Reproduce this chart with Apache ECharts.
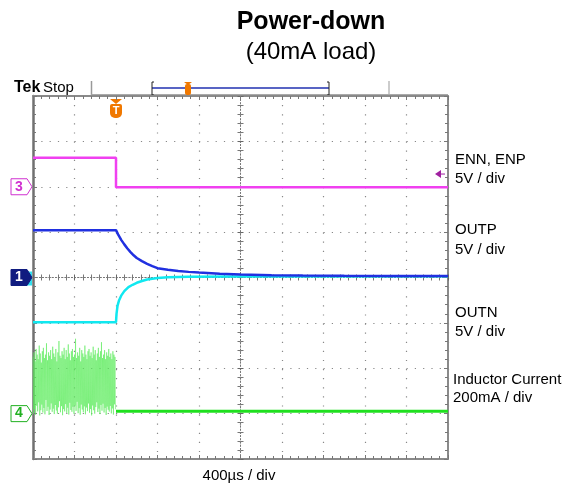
<!DOCTYPE html>
<html><head><meta charset="utf-8">
<script src="https://cdn.jsdelivr.net/npm/echarts@6/dist/echarts.min.js"></script>
<style>html,body{margin:0;padding:0;background:#fff}#c{width:576px;height:484px}</style>
</head><body><div id="c"></div>
<script>
// ---- scope settings ----
const timePerDiv = 400;          // µs / div
const screenDivsX = 10;
const screenDivsY = 8;
const triggerTime = 800;         // µs from left edge of screen
// channel ground offsets (div from centre) and scales (units / div)
const enOffset = 2,   enScale = 5;     // ENN, ENP  5V/div
const outpOffset = 0, outpScale = 5;   // OUTP 5V/div
const outnOffset = 0, outnScale = 5;   // OUTN 5V/div
const indOffset = -3, indScale = 200;  // inductor current 200mA/div
const trigLevel = 1.4;                 // V on ENN channel

// ---- waveform data (time µs from left edge, value) ----
const enTime  = [0, 800, 800, 4000];
const enValue = [3.2, 3.2, -0.06, -0.06];

const outpTime  = [0, 800, 820, 850, 880, 910, 940, 970, 1000, 1050, 1100, 1150, 1200, 1300, 1400, 1500, 1600, 1800, 2000, 2300, 2600, 3000, 3500, 4000];
const outpValue = [5.22, 5.22, 4.75, 4.15, 3.65, 3.2, 2.8, 2.45, 2.15, 1.8, 1.5, 1.25, 1.03, 0.85, 0.72, 0.62, 0.54, 0.42, 0.33, 0.26, 0.22, 0.19, 0.17, 0.16];

const outnTime  = [0, 800, 805, 815, 830, 850, 880, 920, 960, 1000, 1050, 1100, 1200, 1300, 1500, 2000, 4000];
const outnValue = [-4.92, -4.92, -4.0, -3.1, -2.5, -2.0, -1.5, -1.05, -0.8, -0.58, -0.38, -0.22, -0.05, 0.03, 0.08, 0.12, 0.14];

// inductor current switching burst before trigger (mA): peaks and valleys
const indPeaks = [250,270,230,285,260,240,300,265,225,275,290,245,260,310,235,270,255,280,240,295,265,250,285,230,270,320,255,245,275,260,290,240,280,250,305,265,235,275,285,250,260,330,245,270,255,290,230,280,265,250,300,260,240,275,285,255,270,245,295,260,280,235,265,290,250,275,315,245,260,280,240,270,255,285,250,265,240,275,260,250];
const indValleys = [0,20,-5,35,10,50,-8,15,40,5,25,-3,60,12,30,-6,18,45,8,22,-2,38,14,0,28,55,6,33,-7,20,10,42,3,26,-4,48,16,8,30,-1,35,12,52,2,24,-5,40,18,6,32,-3,27,11,45,4,20,-8,36,15,0,29,50,7,22,-2,38,13,44,5,25,-6,31,17,9,34,1,23,-4,41,19];
const indAfterTime  = [800, 4000];
const indAfterValue = [10, 10];

// ---- build series data in screen divisions ----
const centreT = timePerDiv * screenDivsX / 2;
function toXY(times, vals, off, sc) {
  return times.map((t, i) => [t - centreT, off + vals[i] / sc]);
}
const indBurst = [];
const burstStep = triggerTime / (indPeaks.length * 2);
indPeaks.forEach((p, i) => {
  indBurst.push([i * 2 * burstStep - centreT, indOffset + p / indScale]);
  indBurst.push([(i * 2 + 1) * burstStep - centreT, indOffset + indValleys[i] / indScale]);
});

const xMin = -centreT, xMax = centreT;
const yMin = -screenDivsY / 2, yMax = screenDivsY / 2;

function xAx(extra) {
  return Object.assign({
    type: 'value', min: xMin, max: xMax, interval: timePerDiv,
    axisLabel: { show: false }, splitLine: { show: false },
    minorTick: { show: true, splitNumber: 5, length: 3, lineStyle: { color: '#777' } },
    axisTick: { show: true, length: 4, inside: true, lineStyle: { color: '#777' } },
    axisLine: { show: true, onZero: false, lineStyle: { color: '#8a8a8a', width: 2 } }
  }, extra);
}
function yAx(extra) {
  return Object.assign({
    type: 'value', min: yMin, max: yMax, interval: 1,
    axisLabel: { show: false }, splitLine: { show: false },
    minorTick: { show: true, splitNumber: 5, length: 3, lineStyle: { color: '#777' } },
    axisTick: { show: true, length: 4, inside: true, lineStyle: { color: '#777' } },
    axisLine: { show: true, onZero: false, lineStyle: { color: '#8a8a8a', width: 2 } }
  }, extra);
}
const centreLine = { show: true, onZero: true, lineStyle: { color: '#777', width: 1, type: [1, 2.2] } };

const chart = echarts.init(document.getElementById('c'), null, { renderer: 'canvas' });
const option = {
  animation: false,
  backgroundColor: '#fff',
  grid: { left: 33, top: 96, width: 415, height: 363, containLabel: false },
  xAxis: [
    xAx({ position: 'bottom', axisLine: centreLine, axisTick: { show: true, length: 3, inside: true, lineStyle: { color: '#666' } },
      splitLine: { show: true, lineStyle: { color: '#888', width: 1.2, type: [1.2, 7.9] } } }),
    xAx({ position: 'bottom', axisLine: centreLine, axisTick: { show: true, length: 3, inside: false, lineStyle: { color: '#666' } } }),
    xAx({ position: 'bottom' }),
    xAx({ position: 'top' })
  ],
  yAxis: [
    yAx({ position: 'left', axisLine: centreLine, axisTick: { show: true, length: 3, inside: true, lineStyle: { color: '#666' } },
      splitLine: { show: true, lineStyle: { color: '#888', width: 1.2, type: [1.2, 7.1] } } }),
    yAx({ position: 'left', axisLine: centreLine, axisTick: { show: true, length: 3, inside: false, lineStyle: { color: '#666' } } }),
    yAx({ position: 'left', axisLine: { show: true, onZero: false, lineStyle: { color: '#707070', width: 2.5 } } }),
    yAx({ position: 'right' })
  ],
  series: [
    { type: 'line', name: 'Inductor burst', data: indBurst, showSymbol: false, symbol: 'none',
      lineStyle: { color: 'rgba(90,235,90,0.55)', width: 1 }, z: 2 },
    { type: 'line', name: 'Inductor Current', data: toXY(indAfterTime, indAfterValue, indOffset, indScale), symbol: 'none',
      lineStyle: { color: '#1fe01f', width: 3 }, z: 3 },
    { type: 'line', name: 'OUTN', data: toXY(outnTime, outnValue, outnOffset, outnScale), symbol: 'none',
      lineStyle: { color: '#10e8f0', width: 2.5 }, z: 3 },
    { type: 'line', name: 'OUTP', data: toXY(outpTime, outpValue, outpOffset, outpScale), symbol: 'none',
      lineStyle: { color: '#2030e0', width: 2.5 }, z: 4 },
    { type: 'line', name: 'ENN, ENP', data: toXY(enTime, enValue, enOffset, enScale), symbol: 'none',
      lineStyle: { color: '#f040f0', width: 2.5 }, z: 4 }
  ]
};
chart.setOption(option);

// ---- overlay graphics positioned through the chart's scales ----
function px(t, v) { return chart.convertToPixel({ gridIndex: 0 }, [t, v]); }
const gLeft = px(xMin, 0)[0], gRight = px(xMax, 0)[0];
const trigX = px(triggerTime - centreT, 0)[0];
const lbl = 'Liberation Sans, Arial, sans-serif';

function chMarker(n, offset, color, filled) {
  const y = px(xMin, offset)[1];
  return { type: 'group', x: gLeft - 22, y: y - 8, children: [
    { type: 'polygon', shape: { points: [[0, 0], [16, 0], [21, 8], [16, 16], [0, 16]] },
      style: { fill: filled ? color : '#fff', stroke: color, lineWidth: 1 } },
    { type: 'text', x: 8, y: 8, style: { text: String(n), fill: filled ? '#fff' : color,
      font: 'bold 14px ' + lbl, align: 'center', verticalAlign: 'middle' } }
  ] };
}
function rText(text, x, y, font, align) {
  return { type: 'text', x: x, y: y, style: { text: text, font: font, fill: '#000', align: align || 'left', verticalAlign: 'middle' } };
}
const enTrigY = px(0, enOffset + trigLevel / enScale)[1];

chart.setOption({ graphic: [
  rText('Power-down', 311, 22, 'bold 25px ' + lbl, 'center'),
  rText('(40mA load)', 311, 52, '24px ' + lbl, 'center'),
  rText('Tek', 14, 88, 'bold 16px ' + lbl),
  rText('Stop', 43, 88, '15px ' + lbl),
  // header separators
  { type: 'line', shape: { x1: 91.5, y1: 81, x2: 91.5, y2: 96 }, style: { stroke: '#999', lineWidth: 1.5 } },
  { type: 'line', shape: { x1: 389, y1: 81, x2: 389, y2: 96 }, style: { stroke: '#bbb', lineWidth: 1.5 } },
  { type: 'line', shape: { x1: 91.5, y1: 95, x2: gRight, y2: 95 }, style: { stroke: '#aaa', lineWidth: 2 } },
  // record bar
  { type: 'line', shape: { x1: 152, y1: 88, x2: 329, y2: 88 }, style: { stroke: '#2030b0', lineWidth: 1.5 } },
  { type: 'polyline', shape: { points: [[154, 82], [152, 82], [152, 95], [154, 95]] }, style: { stroke: '#222', lineWidth: 1, fill: null } },
  { type: 'polyline', shape: { points: [[327, 82], [329, 82], [329, 95], [327, 95]] }, style: { stroke: '#222', lineWidth: 1, fill: null } },
  { type: 'polygon', shape: { points: [[184, 82], [192, 82], [188, 85]] }, style: { fill: '#f07800' } },
  { type: 'rect', shape: { x: 185, y: 84, width: 6, height: 11, r: 2 }, style: { fill: '#f07800' } },
  // trigger marker
  { type: 'polygon', shape: { points: [[trigX - 6, 99], [trigX + 6, 99], [trigX, 104]] }, style: { fill: '#f07800' } },
  { type: 'rect', shape: { x: trigX - 6, y: 104, width: 12, height: 14, r: [2, 2, 5, 5] }, style: { fill: '#f07800' } },
  { type: 'text', x: trigX, y: 111, style: { text: 'T', font: 'bold 11px ' + lbl, fill: '#fff', align: 'center', verticalAlign: 'middle' } },
  // trigger level arrow
  { type: 'polygon', shape: { points: [[gRight - 13, enTrigY], [gRight - 7, enTrigY - 4], [gRight - 7, enTrigY + 4]] }, style: { fill: '#a020a0' } },
  { type: 'line', shape: { x1: gRight - 7, y1: enTrigY, x2: gRight - 3, y2: enTrigY }, style: { stroke: '#a020a0', lineWidth: 1 } },
  // channel markers
  chMarker(3, enOffset, '#d030d0', false),
  { type: 'rect', shape: { x: gLeft - 22, y: px(xMin, outnOffset)[1] - 6, width: 21, height: 14 }, style: { fill: '#30e0f0' } },
  chMarker(1, outpOffset, '#101c80', true),
  chMarker(4, indOffset, '#20b020', false),
  // right-hand labels
  rText('ENN, ENP', 455, 160, '15px ' + lbl),
  rText('5V / div', 455, 179, '15px ' + lbl),
  rText('OUTP', 455, 230, '15px ' + lbl),
  rText('5V / div', 455, 250, '15px ' + lbl),
  rText('OUTN', 455, 313, '15px ' + lbl),
  rText('5V / div', 455, 332, '15px ' + lbl),
  rText('Inductor Current', 453, 380, '15px ' + lbl),
  rText('200mA / div', 453, 398, '15px ' + lbl),
  rText('400µs / div', 239, 476, '15px ' + lbl, 'center')
] });
</script></body></html>
